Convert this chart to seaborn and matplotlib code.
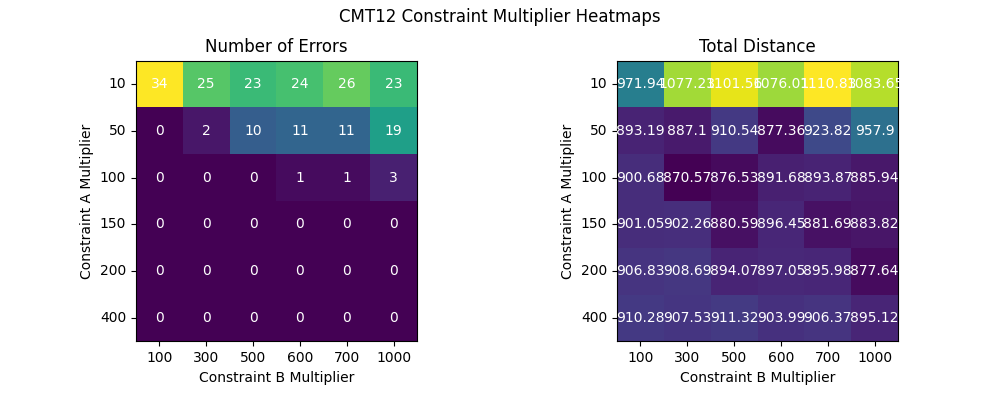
import matplotlib
matplotlib.use("Agg")
import matplotlib.pyplot as plt
import pandas as pd
import seaborn as sns

# multiplikatori ogranicenja
a_mult = [10, 50, 100, 150, 200, 400]
b_mult = [100, 300, 500, 600, 700, 1000]

n_errors = [
    [34, 25, 23, 24, 26, 23],
    [0, 2, 10, 11, 11, 19],
    [0, 0, 0, 1, 1, 3],
    [0, 0, 0, 0, 0, 0],
    [0, 0, 0, 0, 0, 0],
    [0, 0, 0, 0, 0, 0],
]

total_dist = [
    [971.94, 1077.23, 1101.56, 1076.01, 1110.83, 1083.65],
    [893.19, 887.1, 910.54, 877.36, 923.82, 957.9],
    [900.68, 870.57, 876.53, 891.68, 893.87, 885.94],
    [901.05, 902.26, 880.59, 896.45, 881.69, 883.82],
    [906.83, 908.69, 894.07, 897.05, 895.98, 877.64],
    [910.28, 907.53, 911.32, 903.99, 906.37, 895.12],
]


def draw(ax, data, title):
    df = pd.DataFrame(data, index=a_mult, columns=b_mult)
    sns.heatmap(df, ax=ax, cmap="viridis", cbar=False, square=True,
                annot=True, fmt="g", annot_kws={"color": "white", "fontsize": 10})
    for s in ax.spines.values():
        s.set_visible(True)
        s.set_color("black")
    ax.set_title(title, fontsize=12)
    ax.set_xlabel("Constraint B Multiplier")
    ax.set_ylabel("Constraint A Multiplier")
    ax.tick_params(axis="y", rotation=0)
    ax.tick_params(axis="x", rotation=0)


fig, axes = plt.subplots(1, 2, figsize=(10, 4))
draw(axes[0], n_errors, "Number of Errors")
draw(axes[1], total_dist, "Total Distance")
fig.suptitle("CMT12 Constraint Multiplier Heatmaps")
fig.subplots_adjust(left=0.136, right=0.898, top=0.85, bottom=0.145, wspace=0.712)
plt.savefig("out.png", dpi=100)
plt.close()
